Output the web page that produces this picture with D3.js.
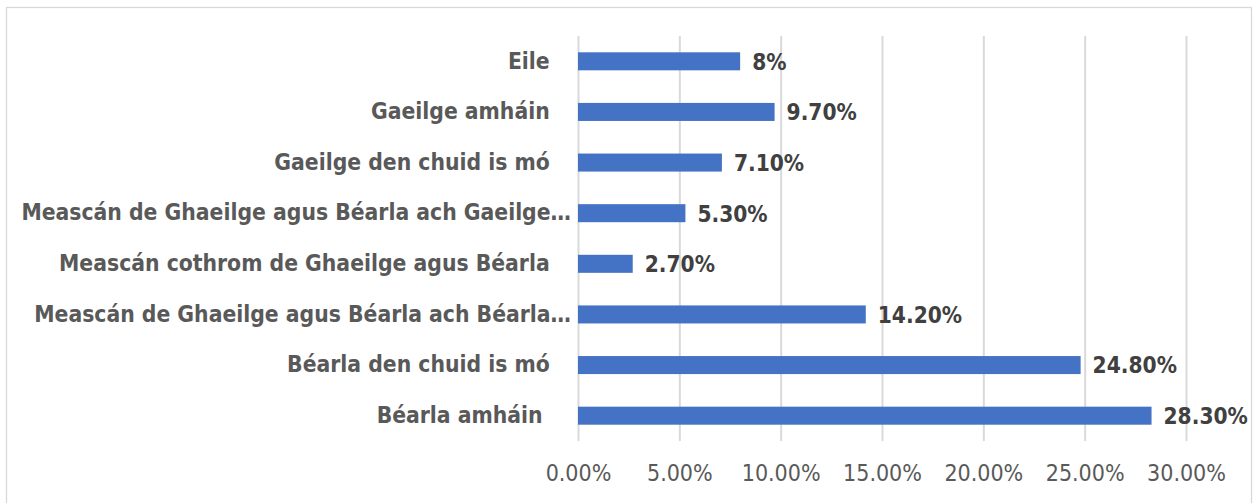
<!DOCTYPE html>
<html>
<head>
<meta charset="utf-8">
<script src="https://cdn.jsdelivr.net/npm/d3@7"></script>
<style>
  body { margin: 0; background: #fff; }
  text { font-family: "DejaVu Sans Condensed", "DejaVu Sans", sans-serif; font-stretch: condensed; }
  .yAxis text { white-space: pre; }
</style>
</head>
<body>
<div id="container"></div>
<script>
/* CONSTANTS AND GLOBALS */
const width = 1253,
  height = 503,
  margin = { top: 36, bottom: 62, left: 578, right: 67 };

/* DATA (top to bottom) */
const categories = [
  "Eile   ",
  "Gaeilge amháin   ",
  "Gaeilge den chuid is mó   ",
  "Meascán de Ghaeilge agus Béarla ach Gaeilge…",
  "Meascán cothrom de Ghaeilge agus Béarla   ",
  "Meascán de Ghaeilge agus Béarla ach Béarla…",
  "Béarla den chuid is mó   ",
  "Béarla amháin    "
];
const values = [8, 9.7, 7.1, 5.3, 2.7, 14.2, 24.8, 28.3];
const valueLabels = ["8%", "9.70%", "7.10%", "5.30%", "2.70%", "14.20%", "24.80%", "28.30%"];
const tickValues = [0, 5, 10, 15, 20, 25, 30];

const data = categories.map((c, i) => ({ cat: c, value: values[i], label: valueLabels[i] }));

// SCALES
const xScale = d3.scaleLinear()
  .domain([0, 30])
  .range([margin.left, width - margin.right]);

const yScale = d3.scaleBand()
  .domain(categories)
  .range([margin.top, height - margin.bottom])
  .paddingInner(0.644)
  .paddingOuter(0.322);

// CREATE SVG ELEMENT
const svg = d3.select("#container")
  .append("svg")
  .attr("width", width)
  .attr("height", height);

// chart border
svg.append("rect")
  .attr("x", 6.5)
  .attr("y", 7.5)
  .attr("width", 1245)
  .attr("height", 520)
  .attr("fill", "none")
  .attr("stroke", "#d9d9d9")
  .attr("stroke-width", 1.3);

// GRIDLINES + X AXIS
const xAxis = d3.axisBottom(xScale)
  .tickValues(tickValues)
  .tickSize(-(height - margin.bottom - margin.top))
  .tickPadding(24)
  .tickFormat(d => d3.format(".2f")(d) + "%");

const xAxisGroup = svg.append("g")
  .attr("class", "xAxis")
  .attr("transform", `translate(0, ${height - margin.bottom})`)
  .call(xAxis);
xAxisGroup.select(".domain").remove();
xAxisGroup.selectAll(".tick line")
  .attr("stroke", "#d9d9d9")
  .attr("stroke-width", 2);
xAxisGroup.selectAll(".tick text")
  .attr("fill", "#595959")
  .attr("font-size", 23)
  .attr("dy", "0.71em");

// Y AXIS (category labels)
const yAxis = d3.axisLeft(yScale)
  .tickSize(0)
  .tickPadding(7);

const yAxisGroup = svg.append("g")
  .attr("class", "yAxis")
  .attr("transform", `translate(${margin.left}, 0)`)
  .call(yAxis);
yAxisGroup.select(".domain").remove();
yAxisGroup.selectAll(".tick text")
  .attr("fill", "#595959")
  .attr("font-size", 22.7)
  .attr("font-weight", "bold");

// DRAW BARS
svg.selectAll(".bar")
  .data(data)
  .join("rect")
  .attr("class", "bar")
  .attr("x", xScale(0))
  .attr("y", d => yScale(d.cat))
  .attr("width", d => xScale(d.value) - xScale(0))
  .attr("height", yScale.bandwidth())
  .attr("fill", "#4472c4");

// VALUE LABELS
svg.selectAll(".valueLabel")
  .data(data)
  .join("text")
  .attr("class", "valueLabel")
  .attr("x", d => xScale(d.value) + 12)
  .attr("y", d => yScale(d.cat) + yScale.bandwidth() / 2)
  .attr("dy", "0.37em")
  .attr("fill", "#404040")
  .attr("font-size", 22.5)
  .attr("font-weight", "bold")
  .text(d => d.label);
</script>
</body>
</html>
